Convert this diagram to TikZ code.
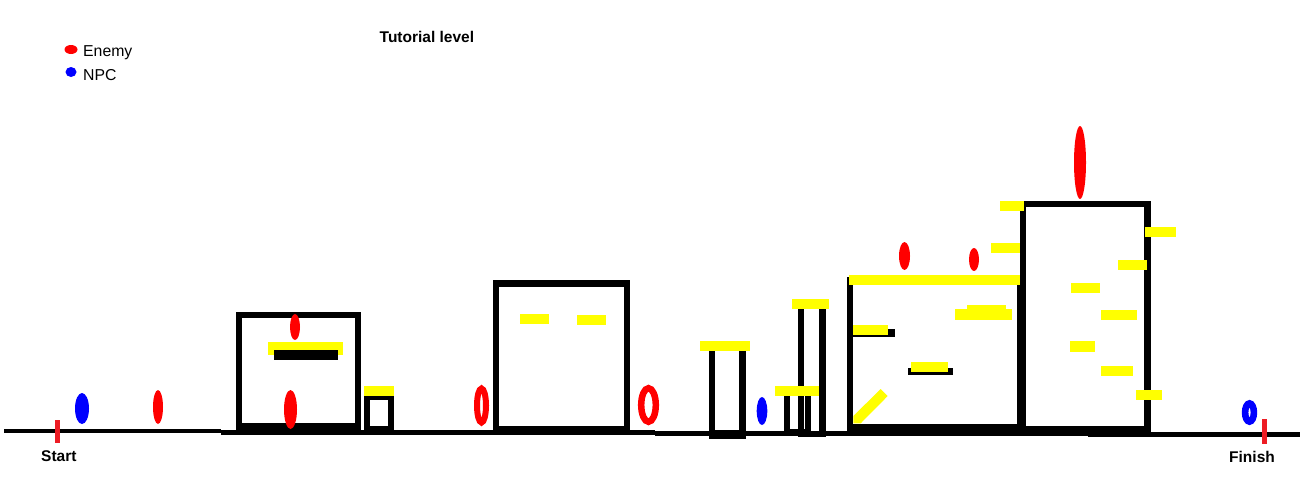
\documentclass[tikz,border=0pt]{standalone}
\usepackage{fontspec}
\setmainfont{Liberation Sans}
\definecolor{enemyred}{HTML}{FF0000}
\definecolor{npcblue}{HTML}{0000FF}
\definecolor{markred}{HTML}{ED1C24}
\definecolor{platyellow}{HTML}{FFFF00}
\tikzset{
  wall/.style={fill=black},
  plat/.style={fill=platyellow},
  ground/.style={fill=black},
  marker/.style={fill=markred},
  enemy/.style={fill=enemyred},
  enemyring/.style={draw=enemyred},
  npc/.style={fill=npcblue},
  npcring/.style={draw=npcblue},
  lbl/.style={inner sep=0pt, anchor=base west, font=\fontsize{15.8}{18}\selectfont},
  blbl/.style={lbl, font=\fontsize{15.5}{18}\selectfont\bfseries}
}
\begin{document}
\begin{tikzpicture}[x=1pt,y=-1pt]
\useasboundingbox[fill=white] (0,0) rectangle (1301,482);

% ---------- legend and title ----------
\fill[enemy] (71,49.5) ellipse [x radius=6.5, y radius=4.5];
\node[lbl] (legenemy) at (83,56) {Enemy};
\fill[npc] (71,72) ellipse [x radius=5.5, y radius=5];
\node[lbl] (legnpc) at (83,80) {NPC};
\node[blbl] (title) at (379.5,42.7) {Tutorial level};

% ---------- ground ----------
\fill[ground] (4,429.3) rectangle (221,433.3);
\fill[ground] (221,430) rectangle (655,434.7);
\fill[ground] (655,431) rectangle (1088,436);
\fill[ground] (1088,431.7) rectangle (1300,436.7);

% start / finish
\fill[marker] (55,420) rectangle (60,443);
\node[blbl] (start) at (41,461.7) {Start};
\fill[marker] (1262,419) rectangle (1267,444);
\node[blbl] (finish) at (1229,462.3) {Finish};

% ---------- building 1 ----------
\fill[wall] (236,312) rectangle (242,434.7);
\fill[wall] (355,312) rectangle (361,434.7);
\fill[wall] (236,312) rectangle (361,318);
\fill[wall] (236,423.3) rectangle (361,434.7);
\fill[plat] (268,342) rectangle (343,355);
\fill[wall] (274,350) rectangle (338,360);

% small box
\fill[wall] (364,395) rectangle (370,431);
\fill[wall] (388,395) rectangle (394,431);
\fill[wall] (364,395) rectangle (394,400);
\fill[wall] (364,426) rectangle (394,431);
\fill[plat] (364,386) rectangle (394,396);

% ---------- building 2 ----------
\fill[wall] (493,280) rectangle (499,435);
\fill[wall] (624,280) rectangle (630,435);
\fill[wall] (493,280) rectangle (630,287);
\fill[wall] (493,426) rectangle (630,435);
\fill[plat] (520,314) rectangle (549,323.7);
\fill[plat] (577,315) rectangle (605.7,325);

% ---------- pillar 1 ----------
\fill[wall] (709,350.7) rectangle (715,438.7);
\fill[wall] (739.3,350.7) rectangle (745.7,438.7);
\fill[wall] (709,430) rectangle (745.7,438.7);
\fill[plat] (700,341) rectangle (750,350.7);

% ---------- tall pillar and small pillar ----------
\fill[wall] (798,309) rectangle (804,436.7);
\fill[wall] (819,309) rectangle (825.7,436.7);
\fill[wall] (798,430.7) rectangle (825.7,436.7);
\fill[plat] (792,299) rectangle (829.3,309);
\fill[wall] (784,395.7) rectangle (790,431);
\fill[wall] (805,395.7) rectangle (811,431);
\fill[wall] (784,429) rectangle (811,431);
\fill[plat] (775,385.7) rectangle (819.3,395.7);

% ---------- building 3 ----------
\fill[wall] (847,277) rectangle (853.3,436);
\fill[wall] (847,424.3) rectangle (1026,436);
\fill[wall] (1016.5,280) rectangle (1026,436);
\fill[plat] (849,275) rectangle (1023,285);
\fill[plat] (967,305) rectangle (1005.7,309.5);
\fill[plat] (955,309) rectangle (1011.7,320);
\fill[wall] (853,329) rectangle (895,337.3);
\fill[plat] (853,325) rectangle (887.7,335);
\fill[wall] (908,368) rectangle (953,375);
\fill[plat] (911,362) rectangle (948,372);
\fill[plat] (853.3,423.3) -- (853.3,416) -- (880.7,389) -- (887.7,396) -- (860.7,423.3) -- cycle;

% ---------- building 4 ----------
\fill[wall] (1020,201) rectangle (1026,436);
\fill[wall] (1020,201) rectangle (1151,207.3);
\fill[wall] (1144,201) rectangle (1151,436);
\fill[wall] (1020,426) rectangle (1151,436);
\fill[plat] (1000,201) rectangle (1024,210.7);
\fill[plat] (991,243) rectangle (1020,252.7);
\fill[plat] (1145,226.7) rectangle (1176,236.7);
\fill[plat] (1118,260) rectangle (1146.7,269.7);
\fill[plat] (1071,283.3) rectangle (1099.7,293.3);
\fill[plat] (1101,310) rectangle (1137,320);
\fill[plat] (1070,341) rectangle (1095,351.7);
\fill[plat] (1101,365.7) rectangle (1133,375.7);
\fill[plat] (1136,390) rectangle (1162,400);

% ---------- enemies ----------
\fill[enemy] (158,407) ellipse [x radius=5, y radius=17];
\fill[enemy] (295,327) ellipse [x radius=5, y radius=13];
\fill[enemy] (290.5,409.5) ellipse [x radius=6.5, y radius=19.5];
\draw[enemyring, line width=6] (481.5,405.5) ellipse [x radius=4.5, y radius=17];
\draw[enemyring, line width=6.5] (648.5,405) ellipse [x radius=7.3, y radius=16.8];
\fill[enemy] (904.5,256) ellipse [x radius=5.5, y radius=14];
\fill[enemy] (974,259.5) ellipse [x radius=5, y radius=11.5];
\fill[enemy] (1080,162.5) ellipse [x radius=6, y radius=36.5];

% ---------- NPCs ----------
\fill[npc] (82,408.5) ellipse [x radius=7, y radius=15.5];
\fill[npc] (762,411) ellipse [x radius=5.3, y radius=14];
\draw[npcring, line width=6.6] (1249.5,412.5) ellipse [x radius=4.4, y radius=9.1];
\end{tikzpicture}
\end{document}
